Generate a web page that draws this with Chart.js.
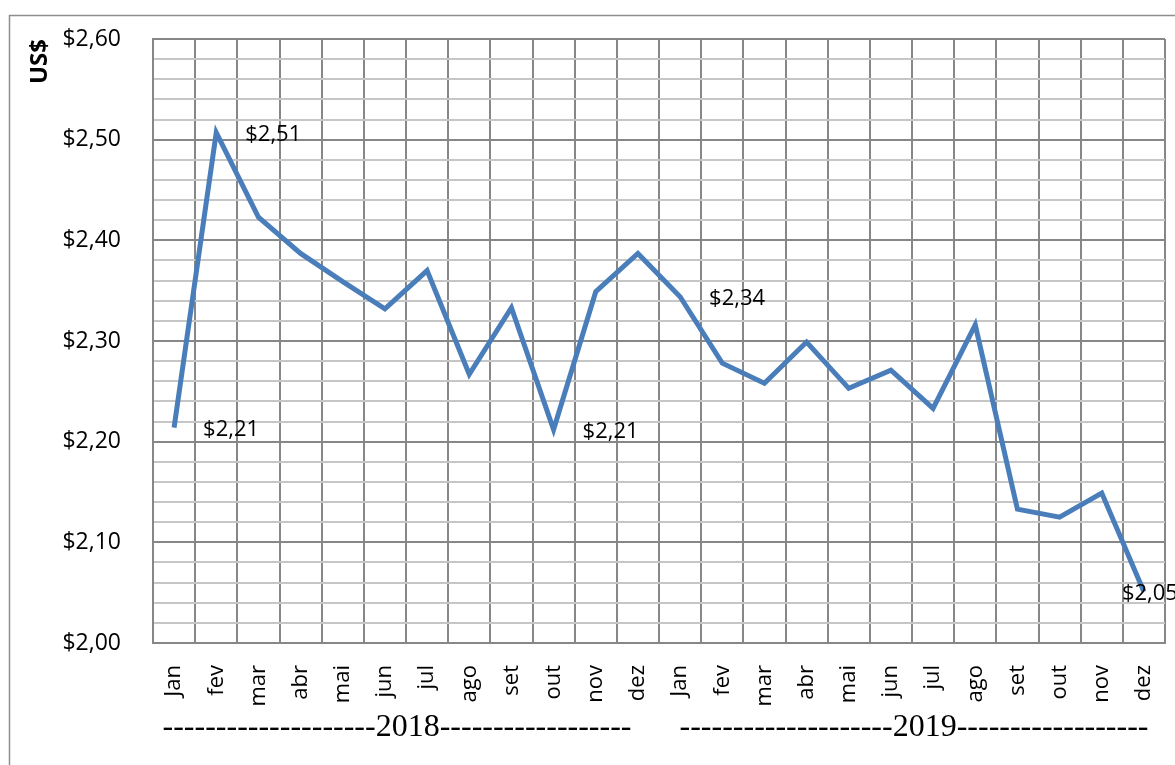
<!DOCTYPE html>
<html>
<head>
<meta charset="utf-8">
<script src="https://cdn.jsdelivr.net/npm/chart.js@4/dist/chart.umd.min.js"></script>
<style>
html,body{margin:0;padding:0;background:#fff;}
#wrap{width:1175px;height:765px;position:relative;}
</style>
</head>
<body>
<div id="wrap"><canvas id="c" width="1175" height="765"></canvas></div>
<script>
const months = ["Jan","fev","mar","abr","mai","jun","jul","ago","set","out","nov","dez",
                "Jan","fev","mar","abr","mai","jun","jul","ago","set","out","nov","dez"];
const prices2018 = [2.214, 2.507, 2.423, 2.387, 2.359, 2.332, 2.370, 2.267, 2.333, 2.212, 2.349, 2.387];
const prices2019 = [2.344, 2.278, 2.258, 2.299, 2.253, 2.271, 2.233, 2.316, 2.133, 2.125, 2.149, 2.051];
const yearLabels = ["--------------------2018------------------", "--------------------2019------------------"];
const labeledPoints = [0, 1, 9, 12, 23];
const yMin = 2.00, yMax = 2.60, yStep = 0.02;

const values = prices2018.concat(prices2019);
const fmt = v => "$" + v.toFixed(2).replace(".", ",");

const deco = {
  id: "deco",
  beforeDraw(chart) {
    const ctx = chart.ctx;
    ctx.save();
    ctx.fillStyle = "#fff";
    ctx.fillRect(0, 0, chart.width, chart.height);
    ctx.strokeStyle = "#8e8e8e";
    ctx.lineWidth = 1.5;
    ctx.beginPath();
    ctx.moveTo(9.5, 765);
    ctx.lineTo(9.5, 15.5);
    ctx.lineTo(1175, 15.5);
    ctx.stroke();
    ctx.restore();
  },
  afterDatasetsDraw(chart) {
    const ctx = chart.ctx;
    const meta = chart.getDatasetMeta(0);
    ctx.save();
    ctx.font = "22px 'Open Sans'";
    ctx.fillStyle = "#000";
    ctx.textBaseline = "middle";
    labeledPoints.forEach(i => {
      const p = meta.data[i];
      const last = i === values.length - 1;
      ctx.textAlign = "left";
      const dx = last ? -22 : 29;
      ctx.fillText(fmt(values[i]), p.x + dx, p.y + 2);
    });
    const xs = chart.scales.x;
    ctx.font = "32px 'Liberation Serif'";
    ctx.textAlign = "center";
    ctx.textBaseline = "middle";
    const c1 = (xs.getPixelForValue(0) + xs.getPixelForValue(11)) / 2;
    const c2 = (xs.getPixelForValue(12) + xs.getPixelForValue(23)) / 2;
    ctx.fillText(yearLabels[0], c1 - 9, 728);
    ctx.fillText(yearLabels[1], c2 + 2, 728);
    ctx.restore();
  }
};

new Chart(document.getElementById("c"), {
  type: "line",
  data: {
    labels: months,
    datasets: [{
      data: values,
      borderColor: "#4a7ebb",
      borderWidth: 5,
      pointRadius: 0,
      pointHoverRadius: 0,
      tension: 0,
      fill: false,
      clip: false
    }]
  },
  options: {
    responsive: false,
    devicePixelRatio: 1,
    animation: false,
    events: [],
    layout: { padding: { top: 39, right: 10, left: 0, bottom: 0 } },
    plugins: { legend: { display: false }, tooltip: { enabled: false } },
    scales: {
      x: {
        type: "category",
        offset: true,
        grid: { offset: true, color: "#878787", lineWidth: 2, drawTicks: false },
        border: { color: "#878787", width: 2 },
        ticks: {
          color: "#000",
          font: { family: "'Open Sans'", size: 22 },
          minRotation: 90, maxRotation: 90,
          padding: 22,
          autoSkip: false
        },
        afterFit(scale) {
          scale.height = 122;
          scale.paddingLeft = 0; scale.paddingRight = 0;
          scale.paddingTop = 0; scale.paddingBottom = 0;
        }
      },
      y: {
        min: yMin, max: yMax,
        grid: {
          drawTicks: false,
          lineWidth: 2,
          color: ctx => (Math.round(ctx.tick.value * 100) % 10 === 0) ? "#878787" : "#c6c6c6"
        },
        border: { color: "#878787", width: 2 },
        ticks: {
          stepSize: yStep,
          autoSkip: false,
          color: "#000",
          font: { family: "'Open Sans'", size: 23 },
          padding: 32,
          callback: v => (Math.round(v * 100) % 10 === 0) ? fmt(v) : ""
        },
        title: {
          display: true,
          text: "US$",
          align: "end",
          color: "#000",
          font: { family: "'Open Sans'", size: 24, weight: "bold" },
          padding: { top: 26, bottom: 0 }
        },
        afterFit(scale) {
          scale.width = 153;
          scale.paddingLeft = 0; scale.paddingRight = 0;
          scale.paddingTop = 0; scale.paddingBottom = 0;
        }
      }
    }
  },
  plugins: [deco]
});
</script>
</body>
</html>
